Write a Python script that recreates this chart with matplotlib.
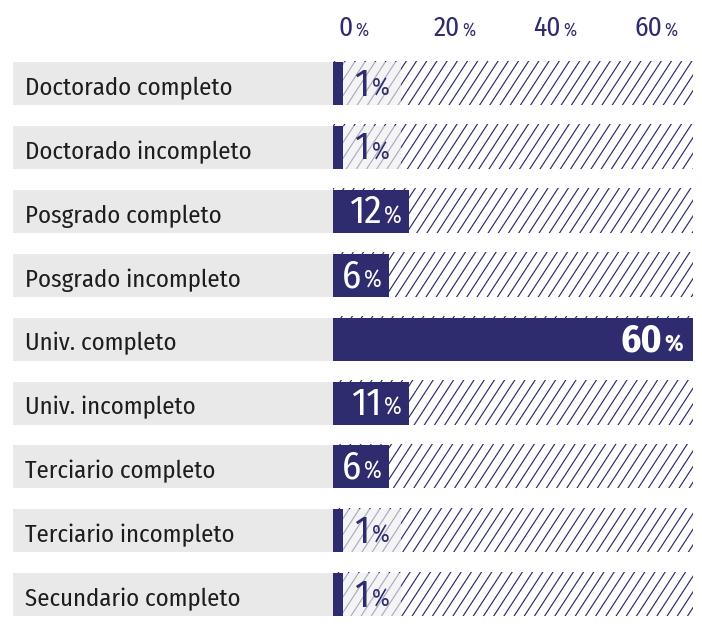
import matplotlib
matplotlib.use('Agg')
import matplotlib.pyplot as plt
from matplotlib import font_manager
from matplotlib.font_manager import FontProperties
from matplotlib.textpath import TextPath
from matplotlib.transforms import offset_copy, blended_transform_factory
from matplotlib.collections import LineCollection
import numpy as np

# ---------------- data ----------------
categories = ["Doctorado completo", "Doctorado incompleto", "Posgrado completo",
              "Posgrado incompleto", "Univ. completo", "Univ. incompleto",
              "Terciario completo", "Terciario incompleto", "Secundario completo"]
values = [1, 1, 12, 6, 60, 11, 6, 1, 1]
tick_values = [0, 20, 40, 60]

# ---------------- style ----------------
names = {f.name for f in font_manager.fontManager.ttflist}
FONT = 'Liberation Sans'
for cand in ['Fira Sans Condensed', 'PT Sans Narrow', 'Open Sans Condensed', 'Asap Condensed']:
    if cand in names:
        FONT = cand
        break
NAVY = '#2e2b6e'
GRAY = '#e8e9e8'
TXT = '#1d1d1b'

W, H, DPI = 702, 639, 100
PT = 72 / DPI
fig = plt.figure(figsize=(W / DPI, H / DPI), dpi=DPI)
fig.patch.set_facecolor('white')
r = fig.canvas.get_renderer()


def measure(s, size, weight='normal'):
    t = fig.text(0, 0, s, fontsize=size, family=FONT, fontweight=weight)
    w = t.get_window_extent(renderer=r).width
    t.remove()
    return w


def size_for(s, target_px, weight='normal'):
    return 10.0 * target_px / measure(s, 10.0, weight)


def size_for_height(s, target_px, weight='normal'):
    tp = TextPath((0, 0), s, size=100, prop=FontProperties(family=FONT, weight=weight))
    h = tp.get_extents().height / 100.0
    return target_px / h * PT


CAT_PT = size_for("Doctorado completo", 207)
NUM_PT = size_for_height("12", 26.5)
PCT_PT = size_for_height("%", 17.5)
TNUM_PT = size_for_height("20", 19)
TPCT_PT = size_for_height("%", 13)

n = len(categories)
row_top0, row_h, pitch = 62, 43, 63.9
c0 = row_top0 + row_h / 2
ax_top_px = c0 - pitch / 2
ax_bot_px = c0 + (n - 0.5) * pitch
bar_x0, bar_x1, lab_x0 = 333, 693, 13
XMAX = 60
pxu = (bar_x1 - bar_x0) / XMAX  # pixels per % unit
hb = row_h / pitch
ypos = np.arange(n)


def fy(px):
    return 1 - px / H


rect_h = (ax_bot_px - ax_top_px) / H
ax = fig.add_axes([bar_x0 / W, fy(ax_bot_px), (bar_x1 - bar_x0) / W, rect_h])
ax.set_xlim(0, XMAX)
ax.set_ylim(n - 0.5, -0.5)
ax.axis('off')

axl = fig.add_axes([lab_x0 / W, fy(ax_bot_px), (bar_x0 - lab_x0) / W, rect_h])
axl.set_xlim(0, 1)
axl.set_ylim(n - 0.5, -0.5)
axl.axis('off')

GAP = 2.5


def draw_pct(axis, trans, x, y, num, color, weight, align, nsize, psize, base_off, dx=0, zorder=5):
    wn = measure(num, nsize, weight)
    wp = measure('%', psize, weight)
    total = wn + GAP + wp
    start = {'right': -total, 'center': -total / 2, 'left': 0}[align] + dx
    axis.text(x, y, num, transform=offset_copy(trans, fig=fig, x=start, y=-base_off, units='dots'),
              ha='left', va='baseline', fontsize=nsize, family=FONT, fontweight=weight,
              color=color, zorder=zorder)
    axis.text(x, y, '%', transform=offset_copy(trans, fig=fig, x=start + wn + GAP, y=-base_off, units='dots'),
              ha='left', va='baseline', fontsize=psize, family=FONT, fontweight=weight,
              color=color, zorder=zorder)
    return total


# ---------------- category boxes ----------------
axl.barh(ypos, 1, height=hb, color=GRAY, zorder=1)
tl = blended_transform_factory(axl.transAxes, axl.transData)
for y, c in zip(ypos, categories):
    axl.text((25 - lab_x0) / (bar_x0 - lab_x0), y, c,
             transform=offset_copy(tl, fig=fig, y=-11.5, units='dots'),
             ha='left', va='baseline', fontsize=CAT_PT, family=FONT, color=TXT)

# ---------------- hatch background ----------------
ext = 1.5 / pitch
hatch_bars = ax.barh(ypos - ext / 2, XMAX, height=hb + ext, left=0,
                     facecolor='none', edgecolor='none', zorder=1)
step_px, slant_px = 10.2, 28.0
for y, patch in zip(ypos, hatch_bars.patches):
    yb = y + hb / 2 + 0.02
    yt = y - hb / 2 - ext - 0.02
    ybp = c0 + y * pitch + row_h / 2
    segs = []
    k0 = int(np.floor((-40 + ybp * slant_px / row_h) / step_px)) - 2
    for k in range(k0, k0 + 60):
        xb_px = k * step_px - ybp * slant_px / row_h
        xb = xb_px / pxu
        dx = (slant_px / pxu) * (yb - yt) / hb
        if xb > XMAX + 1:
            break
        segs.append([(xb, yb), (xb + dx, yt)])
    lc = LineCollection(segs, colors=NAVY, linewidths=0.85, zorder=2)
    ax.add_collection(lc)
    lc.set_clip_path(patch)

# ---------------- bars and labels ----------------
PAD_L, PAD_R, PAD_R_BIG, MIN_PX, BOX_PX = 8, 7, 10, 10, 58
td = ax.transData
for y, v in zip(ypos, values):
    label = str(v)
    weight = 'bold' if v == max(values) else 'normal'
    inside = v >= 5
    if inside:
        # room for the label, measured with tabular-width digits
        tw = measure('0' * len(label), NUM_PT, weight) + GAP + measure('%', PCT_PT, weight)
        need = tw + PAD_L + PAD_R
        wpx = max(v * pxu, need)
    else:
        wpx = max(v * pxu, MIN_PX)
    w = wpx / pxu
    ax.barh(y, w, height=hb, left=0, color=NAVY, zorder=3)
    if inside:
        rp = PAD_R if v * pxu <= need else PAD_R_BIG
        draw_pct(ax, td, w, y, label, 'white', weight, 'right', NUM_PT, PCT_PT, 12, dx=-rp)
    else:
        bw = BOX_PX / pxu
        ax.barh(y, bw, height=hb, left=w, color='#efefef', alpha=0.65, zorder=3)
        draw_pct(ax, td, w + bw / 2, y, label, NAVY, weight, 'center', NUM_PT, PCT_PT, 12)

# ---------------- top tick labels ----------------
ax2 = ax.twiny()
t0, t60 = 353.5, 656.0
s = (t60 - t0) / 60
ax2.set_xlim(-(t0 - bar_x0) / s, (bar_x1 - t0) / s)
ax2.axis('off')
tx = ax2.get_xaxis_transform()
for t in tick_values:
    draw_pct(ax2, tx, t, 1.0, str(t), NAVY, 'normal', 'center', TNUM_PT, TPCT_PT,
             -(ax_top_px - 36))

fig.savefig('out.png', dpi=DPI, facecolor='white')
